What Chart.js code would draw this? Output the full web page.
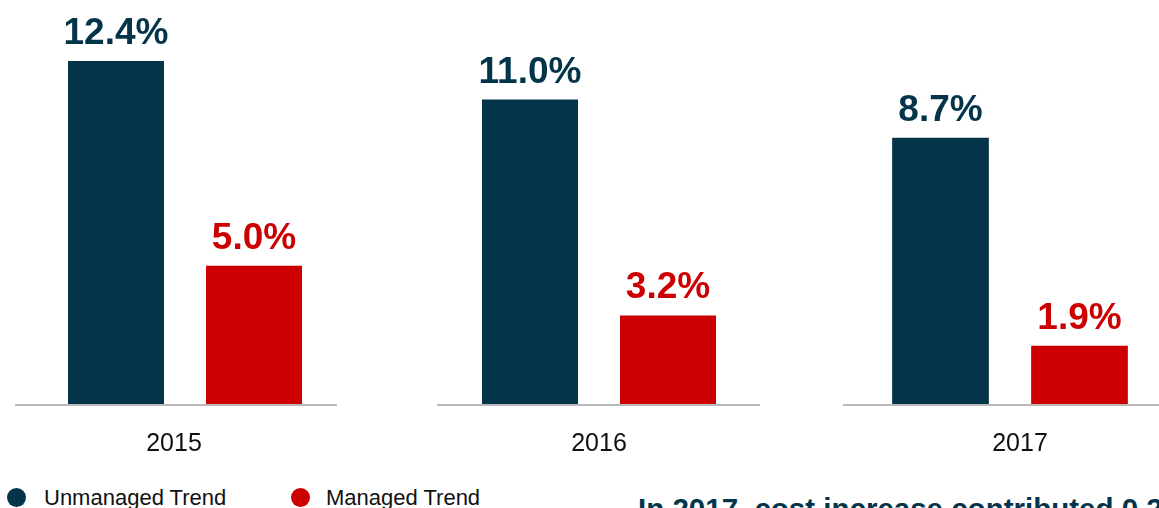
<!DOCTYPE html>
<html>
<head>
<meta charset="utf-8">
<script src="https://cdn.jsdelivr.net/npm/chart.js@4/dist/chart.umd.min.js"></script>
<style>
  html, body { margin: 0; padding: 0; background: #fff; }
  body { width: 1159px; height: 508px; overflow: hidden; position: relative; font-family: "Liberation Sans", Arial, sans-serif; }
  .panel { position: absolute; top: 0; }
  .legend { position: absolute; top: 487px; left: 7px; font-size: 22px; line-height: 22px; color: #111; }
  .legend span.item { position: absolute; white-space: nowrap; }
  .legend i { position: absolute; width: 19px; height: 19px; border-radius: 50%; top: 1px; }
  .note { position: absolute; left: 638px; top: 494px; font-size: 29.5px; line-height: 29px; font-weight: bold; color: #03344a; white-space: nowrap; }
</style>
</head>
<body>
<div class="panel" style="left:15px"><canvas id="c0" width="322" height="484"></canvas></div>
<div class="panel" style="left:437px"><canvas id="c1" width="323" height="484"></canvas></div>
<div class="panel" style="left:843px"><canvas id="c2" width="316" height="484"></canvas></div>

<div class="legend">
  <span class="item" style="left:0"><i style="left:0;background:#03344a"></i><span style="position:absolute;left:37px">Unmanaged Trend</span></span>
  <span class="item" style="left:284px"><i style="left:0;background:#cc0000"></i><span style="position:absolute;left:35px">Managed Trend</span></span>
</div>
<div class="note">In 2017, cost increase contributed 0.2% of the trend</div>

<script>
// data
const years = ['2015', '2016', '2017'];
const unmanaged = [12.4, 11.0, 8.7];
const managed = [5.0, 3.2, 1.9];
const seriesNames = ['Unmanaged Trend', 'Managed Trend'];

const navy = '#03344a';
const red = '#cc0000';

// per-panel layout (each year is drawn as its own little chart)
const panels = [
  { pad: [32, 14], yMax: 14.6, labelOffset: -11 },
  { pad: [24, 23], yMax: 14.6, labelOffset: 0 },
  { pad: [28, 10], yMax: 13.2, labelOffset: 10 }
];

// baseline across the whole panel width
const baseLine = {
  id: 'baseLine',
  beforeDatasetsDraw(chart) {
    const ctx = chart.ctx;
    const y = chart.scales.y.getPixelForValue(0);
    ctx.save();
    ctx.strokeStyle = '#b9b9b9';
    ctx.lineWidth = 2;
    ctx.beginPath();
    ctx.moveTo(0, y + 1);
    ctx.lineTo(chart.width, y + 1);
    ctx.stroke();
    ctx.restore();
  }
};

// value labels on top of bars
const valueLabels = {
  id: 'valueLabels',
  afterDatasetsDraw(chart) {
    const ctx = chart.ctx;
    ctx.save();
    ctx.font = 'bold 37px "Liberation Sans", Arial, sans-serif';
    ctx.textAlign = 'center';
    ctx.textBaseline = 'alphabetic';
    chart.data.datasets.forEach((ds, i) => {
      chart.getDatasetMeta(i).data.forEach((bar, j) => {
        ctx.fillStyle = ds.backgroundColor;
        ctx.fillText(ds.data[j].toFixed(1) + '%', bar.x, bar.y - 17);
      });
    });
    ctx.restore();
  }
};

years.forEach((yr, k) => {
  const p = panels[k];
  new Chart(document.getElementById('c' + k), {
    type: 'bar',
    data: {
      labels: [yr],
      datasets: [
        { label: seriesNames[0], data: [unmanaged[k]], backgroundColor: navy },
        { label: seriesNames[1], data: [managed[k]], backgroundColor: red }
      ]
    },
    options: {
      responsive: false,
      animation: false,
      devicePixelRatio: 1,
      layout: { padding: { left: p.pad[0], right: p.pad[1], top: 0, bottom: 0 } },
      datasets: { bar: { categoryPercentage: 1, barPercentage: 0.6957 } },
      plugins: { legend: { display: false }, tooltip: { enabled: false } },
      scales: {
        x: {
          grid: { display: false, drawTicks: false },
          border: { display: false },
          ticks: {
            padding: 25,
            labelOffset: p.labelOffset,
            color: '#111',
            font: { family: '"Liberation Sans", Arial, sans-serif', size: 25 }
          }
        },
        y: { display: false, min: 0, max: p.yMax }
      }
    },
    plugins: [baseLine, valueLabels]
  });
});
</script>
</body>
</html>
